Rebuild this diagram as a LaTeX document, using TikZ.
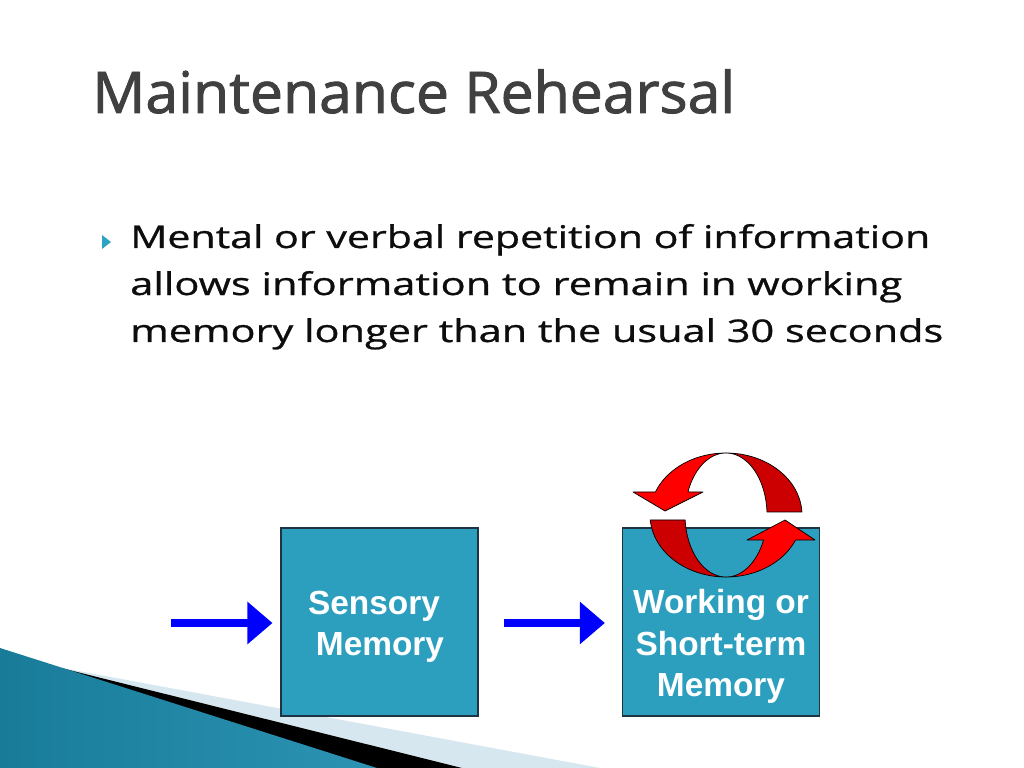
\documentclass[tikz,border=0pt]{standalone}
\usepackage{graphicx}
\usepackage{fontspec}
\setmainfont{Open Sans}
\newfontfamily\titlefont[FakeBold=1.6]{Open Sans}
\newfontfamily\bodyfont[FakeBold=0.7]{Open Sans}
\newfontfamily\boxfont{Liberation Sans}
\usetikzlibrary{arrows.meta}
\definecolor{titlegray}{HTML}{404040}
\definecolor{bodyblack}{HTML}{0D0D0D}
\definecolor{bulletteal}{HTML}{2EA3C2}
\definecolor{boxteal}{HTML}{2C9FBF}
\definecolor{boxedge}{HTML}{1F3442}
\definecolor{redB}{HTML}{FF0000}
\definecolor{redD}{HTML}{CC0000}
\definecolor{decoDark}{HTML}{187C99}
\definecolor{decoMid}{HTML}{52B6D6}
\definecolor{decoRight}{HTML}{2C93B3}
\definecolor{decoLight}{HTML}{D6E7F0}
\newsavebox\fitbox
\newlength\fitlen
\newcommand\fitw[2]{\sbox\fitbox{#2}\setlength\fitlen{\wd\fitbox}\pgfmathsetmacro\fitratio{#1*0.703125/\fitlen}\scalebox{\fitratio}[1]{\usebox\fitbox}}
\tikzset{
  memorybox/.style={draw=boxedge, line width=0.8pt, fill=boxteal, minimum width=138.5pt, minimum height=132.2pt, inner sep=0pt},
  boxtext/.style={anchor=base, inner sep=0pt, text=white, font=\boxfont\bfseries\fontsize{23.5pt}{28pt}\selectfont},
  bodytext/.style={anchor=base west, inner sep=0pt, text=bodyblack, font=\bodyfont\fontsize{22pt}{27pt}\selectfont},
  bluearrow/.style={draw=blue, line width=5.6pt, line cap=butt, -{Triangle[length=17.6pt,width=28.8pt]}},
  redpart/.style={draw=black, line width=0.5pt, line join=round},
}
\begin{document}
\begin{tikzpicture}[x=0.703125pt, y=-0.703125pt]
\useasboundingbox (0,0) rectangle (1024,768);
\fill[white] (0,0) rectangle (1024,768);
% bottom-left decoration
\fill[decoLight] (57,667) -- (600,768) -- (0,768) -- cycle;
\fill[black] (57,667) -- (462,768) -- (0,768) -- cycle;
\shade[left color=decoDark, middle color=decoMid, right color=decoRight] (0,648) -- (377,768) -- (0,768) -- cycle;
% title
\node[anchor=base west, inner sep=0pt, text=titlegray, font=\titlefont\fontsize{40.4pt}{48pt}\selectfont] (title) at (92,113) {\fitw{643}{Maintenance Rehearsal}};
% bullet
\fill[bulletteal] (102,235) -- (111,242) -- (102,249) -- cycle;
\node[bodytext] (l1) at (130,248) {\fitw{800}{Mental or verbal repetition of information}};
\node[bodytext] (l2) at (130,295) {\fitw{772}{allows information to remain in working}};
\node[bodytext] (l3) at (130,342) {\fitw{813}{memory longer than the usual 30 seconds}};
% boxes
\node[memorybox] (s) at (379.5,622) {};
\node[memorybox] (w) at (721,622) {};
\node[boxtext] (s1) at (374,614) {Sensory};
\node[boxtext] (s2) at (380,655) {Memory};
\node[boxtext] (w1) at (721,613) {Working or};
\node[boxtext] (w2) at (721,655) {Short-term};
\node[boxtext] (w3) at (721,696) {Memory};
% blue arrows
\coordinate (in) at (171,623);
\draw[bluearrow, shorten >=5.6pt] (in) -- (in -| s.west);
\draw[bluearrow, shorten <=17.6pt, shorten >=12pt] (s.east |- in) -- (w.west |- in);
% circular red arrows
\filldraw[redpart, fill=redB]
  plot[domain=-90:-158.2, samples=40] ({726+76*cos(\x)},{515+62*sin(\x)})
  -- (633,492) -- (665,511) -- (703,492)
  -- plot[domain=-158.2:-90, samples=40] ({726+41*cos(\x)},{515+62*sin(\x)}) -- cycle;
\filldraw[redpart, fill=redD]
  plot[domain=-90:-2.8, samples=40] ({726+76*cos(\x)},{515+62*sin(\x)})
  -- plot[domain=-2.8:-90, samples=40] ({726+41*cos(\x)},{515+62*sin(\x)}) -- cycle;
\filldraw[redpart, fill=redD]
  plot[domain=175.4:90, samples=40] ({726+76*cos(\x)},{515+62*sin(\x)})
  -- plot[domain=90:175.4, samples=40] ({726+41*cos(\x)},{515+62*sin(\x)}) -- cycle;
\filldraw[redpart, fill=redB]
  plot[domain=90:23.8, samples=40] ({726+76*cos(\x)},{515+62*sin(\x)})
  -- (815,540) -- (785,520) -- (747,540)
  -- plot[domain=23.8:90, samples=40] ({726+41*cos(\x)},{515+62*sin(\x)}) -- cycle;
\end{tikzpicture}
\end{document}
